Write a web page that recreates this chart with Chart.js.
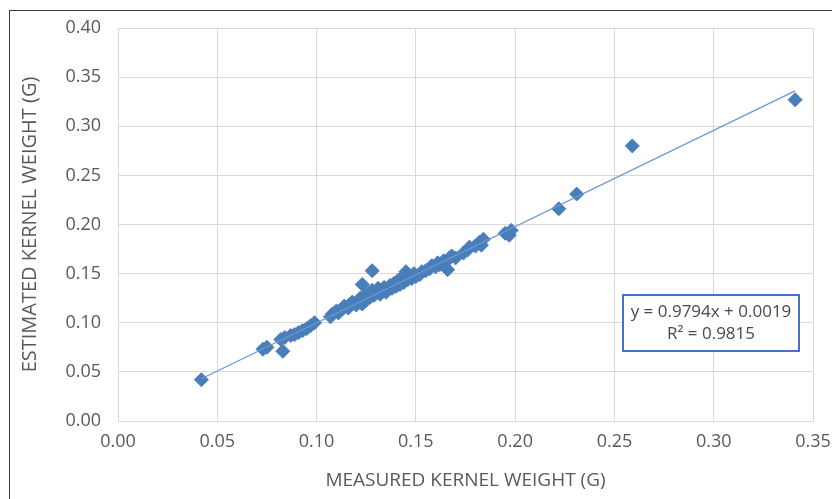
<!DOCTYPE html>
<html>
<head>
<meta charset="utf-8">
<title>Kernel weight</title>
<script src="https://cdn.jsdelivr.net/npm/chart.js@4.4.1/dist/chart.umd.min.js"></script>
<style>
  html, body { margin: 0; padding: 0; background: #fff; }
  #wrap { position: relative; width: 832px; height: 499px; overflow: hidden; }
  #frame { position: absolute; left: 9px; top: 10px; width: 900px; height: 600px;
           border-left: 1px solid #3a3a3a; border-top: 1px solid #3a3a3a; pointer-events: none; }
  canvas { position: absolute; left: 0; top: 0; }
</style>
</head>
<body>
<div id="wrap">
  <canvas id="chart" width="850" height="499"></canvas>
  <div id="frame"></div>
</div>
<script>
// measured vs estimated kernel weight (g)
const measuredKW = [
  0.042, 0.073, 0.075, 0.082, 0.083, 0.084, 0.087, 0.089, 0.091, 0.093,
  0.095, 0.097, 0.099, 0.107, 0.108, 0.110, 0.111, 0.113, 0.114, 0.116,
  0.117, 0.118, 0.120, 0.121, 0.122, 0.123, 0.123, 0.124, 0.125, 0.126,
  0.127, 0.128, 0.128, 0.129, 0.130, 0.131, 0.132, 0.133, 0.134, 0.135,
  0.136, 0.137, 0.138, 0.139, 0.140, 0.141, 0.142, 0.143, 0.144, 0.145,
  0.146, 0.147, 0.148, 0.149, 0.150, 0.152, 0.153, 0.155, 0.157, 0.158,
  0.160, 0.161, 0.162, 0.164, 0.165, 0.166, 0.167, 0.168, 0.170, 0.174,
  0.176, 0.177, 0.180, 0.182, 0.183, 0.184, 0.195, 0.197, 0.198, 0.222,
  0.231, 0.259, 0.341
];
const estimatedKW = [
  0.042, 0.073, 0.075, 0.083, 0.071, 0.085, 0.087, 0.088, 0.090, 0.092,
  0.094, 0.097, 0.100, 0.106, 0.109, 0.112, 0.110, 0.114, 0.117, 0.115,
  0.119, 0.121, 0.118, 0.122, 0.125, 0.139, 0.119, 0.127, 0.123, 0.130,
  0.126, 0.153, 0.133, 0.128, 0.131, 0.135, 0.129, 0.133, 0.136, 0.131,
  0.134, 0.138, 0.135, 0.140, 0.137, 0.143, 0.139, 0.146, 0.141, 0.152,
  0.144, 0.148, 0.145, 0.150, 0.147, 0.149, 0.152, 0.153, 0.155, 0.158,
  0.157, 0.161, 0.159, 0.163, 0.162, 0.154, 0.166, 0.168, 0.166, 0.171,
  0.174, 0.177, 0.178, 0.182, 0.179, 0.185, 0.191, 0.189, 0.194, 0.216,
  0.231, 0.280, 0.327
];

// linear trendline ends, y = 0.9794x + 0.0019
const trendX = [0.042, 0.341];
const trendY = [0.043, 0.336];
const equationLines = ['y = 0.9794x + 0.0019', 'R\u00b2 = 0.9815'];

const xMax = 0.35, yMax = 0.40, tickStep = 0.05;

const textColor = '#595959';
const gridColor = '#d9d9d9';
const fontFamily = '"Open Sans", "Noto Sans", sans-serif';

const points = measuredKW.map((x, i) => ({ x: x, y: estimatedKW[i] }));
const trend = trendX.map((x, i) => ({ x: x, y: trendY[i] }));

// text box with the regression equation
const equationBox = {
  id: 'equationBox',
  afterDraw(chart) {
    const ctx = chart.ctx;
    const left = 623, top = 295, w = 176, h = 56;
    ctx.save();
    ctx.fillStyle = '#fff';
    ctx.fillRect(left, top, w, h);
    ctx.strokeStyle = '#4472c4';
    ctx.lineWidth = 2;
    ctx.strokeRect(left, top, w, h);
    ctx.fillStyle = '#4a4a4a';
    ctx.font = '17px ' + fontFamily;
    ctx.textAlign = 'center';
    ctx.textBaseline = 'middle';
    ctx.fillText(equationLines[0], left + w / 2, top + 17);
    ctx.fillText(equationLines[1], left + w / 2, top + 39);
    ctx.restore();
  }
};

new Chart(document.getElementById('chart'), {
  type: 'scatter',
  data: {
    datasets: [
      {
        label: 'Linear',
        type: 'line',
        data: trend,
        borderColor: '#6a98d0',
        borderWidth: 1.25,
        pointRadius: 0,
        fill: false
      },
      {
        label: 'Kernel weight',
        data: points,
        pointStyle: 'rectRot',
        pointRadius: 7,
        pointHoverRadius: 7,
        backgroundColor: '#4a7ebb',
        borderColor: '#4a7ebb',
        borderWidth: 1
      }
    ]
  },
  options: {
    responsive: false,
    animation: false,
    devicePixelRatio: 1,
    layout: { padding: { top: 28, right: 37, bottom: 0, left: 0 } },
    plugins: {
      legend: { display: false },
      tooltip: { enabled: false }
    },
    scales: {
      x: {
        type: 'linear',
        min: 0,
        max: xMax,
        afterFit: s => { s.height = 78; },
        grid: { color: gridColor, drawTicks: false },
        border: { color: gridColor },
        ticks: {
          stepSize: tickStep,
          padding: 10,
          color: textColor,
          font: { family: fontFamily, size: 18 },
          callback: v => v.toFixed(2)
        },
        title: {
          display: true,
          text: 'MEASURED KERNEL WEIGHT (G)',
          color: textColor,
          font: { family: fontFamily, size: 19 },
          padding: { top: 0, bottom: 7 }
        }
      },
      y: {
        type: 'linear',
        min: 0,
        max: yMax,
        afterFit: s => { s.width = 118; },
        grid: { color: gridColor, drawTicks: false },
        border: { color: gridColor },
        ticks: {
          stepSize: tickStep,
          padding: 17,
          color: textColor,
          font: { family: fontFamily, size: 18 },
          callback: v => v.toFixed(2)
        },
        title: {
          display: true,
          text: 'ESTIMATED KERNEL WEIGHT (G)',
          color: textColor,
          font: { family: fontFamily, size: 20 },
          padding: { top: 18, bottom: 0 }
        }
      }
    }
  },
  plugins: [equationBox]
});
</script>
</body>
</html>
